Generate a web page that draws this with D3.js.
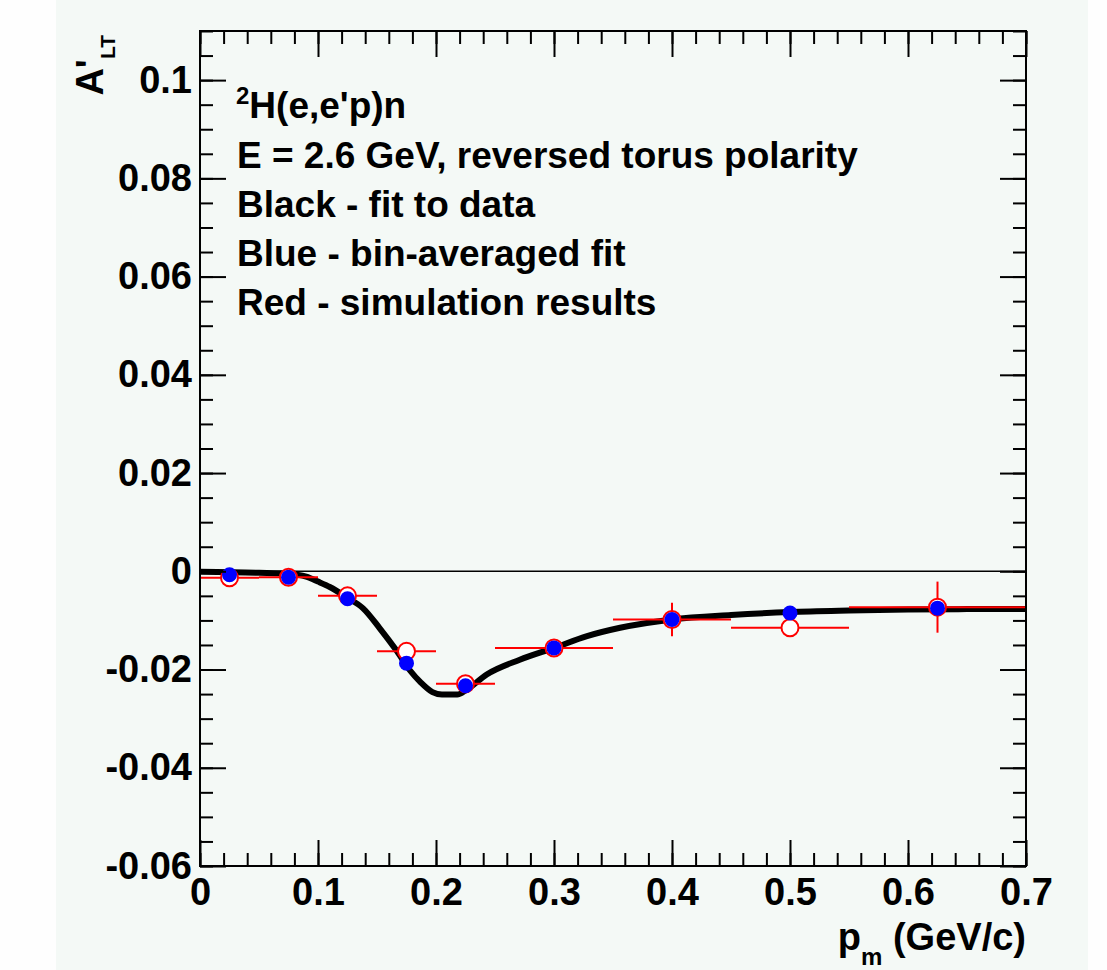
<!DOCTYPE html>
<html>
<head>
<meta charset="utf-8">
<script src="https://cdn.jsdelivr.net/npm/d3@7"></script>
<style>
  body { margin: 0; background: #fefefe; }
  svg { display: block; font-family: "Liberation Sans", Arial, Helvetica, sans-serif; font-weight: bold; }
</style>
</head>
<body>
<svg id="chart" width="1107" height="970"></svg>
<script>
// bins in missing momentum (GeV/c)
var binCenters = [0.025, 0.075, 0.125, 0.175, 0.225, 0.3, 0.4, 0.5, 0.625];
var binLow     = [0, 0.05, 0.1, 0.15, 0.2, 0.25, 0.35, 0.45, 0.55];
var binHigh    = [0.05, 0.1, 0.15, 0.2, 0.25, 0.35, 0.45, 0.55, 0.7];

// red - simulation results
var simValues = [-0.0013, -0.0012, -0.0050, -0.0163, -0.0229, -0.0156, -0.0098, -0.0115, -0.0073];
var simErrors = [0.0004, 0.0004, 0.0005, 0.0006, 0.0006, 0.0006, 0.0034, 0.0006, 0.0052];

// blue - bin-averaged fit
var binAvgFit = [-0.0007, -0.0012, -0.0056, -0.0187, -0.0233, -0.0156, -0.0098, -0.0085, -0.0075];

// black - fit to data
var fitX = [0, 0.05, 0.075, 0.09, 0.10, 0.11, 0.125, 0.138, 0.152, 0.167, 0.178, 0.187, 0.197, 0.205,
            0.218, 0.226, 0.243, 0.271, 0.3, 0.328, 0.356, 0.4, 0.45, 0.5, 0.55, 0.6, 0.65, 0.7];
var fitY = [-0.0001, -0.0003, -0.0005, -0.0011, -0.0021, -0.0032, -0.0054, -0.0075, -0.0115, -0.0163,
            -0.0202, -0.0226, -0.0246, -0.0251, -0.0251, -0.0241, -0.0210, -0.0180, -0.0156, -0.0132,
            -0.0115, -0.0098, -0.0089, -0.0083, -0.0080, -0.0078, -0.0077, -0.0077];

// axis ticks
var xMajor = [0, 0.1, 0.2, 0.3, 0.4, 0.5, 0.6, 0.7];
var yMajor = [-0.06, -0.04, -0.02, 0, 0.02, 0.04, 0.06, 0.08, 0.1];

var legendLines = ["E = 2.6 GeV, reversed torus polarity", "Black - fit to data",
                   "Blue - bin-averaged fit", "Red - simulation results"];

var svg = d3.select('#chart');

// frame in pixels
var frame = {l: 200, r: 1026, t: 31, b: 866};

var x = d3.scaleLinear().domain([0, 0.7]).range([frame.l, frame.r]);
var y = d3.scaleLinear().domain([-0.06, 0.11]).range([frame.b, frame.t]);

// panel background
svg.append('rect')
    .attr('x', 56).attr('y', 0)
    .attr('width', 1032).attr('height', 970)
    .style('fill', '#f4f9f6');

// zero line
svg.append('line')
    .attr('x1', x(0)).attr('x2', x(0.7))
    .attr('y1', y(0)).attr('y2', y(0))
    .style('stroke', '#000').style('stroke-width', 1.6);

// fit curve
var fitData = fitX.map(function(d, i) { return [d, fitY[i]]; });
svg.append('path')
    .datum(fitData)
    .attr('d', d3.line()
        .x(function(d) { return x(d[0]); })
        .y(function(d) { return y(d[1]); })
        .curve(d3.curveMonotoneX))
    .style('fill', 'none')
    .style('stroke', '#000')
    .style('stroke-width', 6)
    .style('stroke-linejoin', 'round');

// red simulation points with error bars
var sim = binCenters.map(function(d, i) {
    return {x: d, lo: binLow[i], hi: binHigh[i], v: simValues[i], e: simErrors[i]};
});
var simG = svg.append('g');
simG.selectAll('.hbar')
    .data(sim).enter().append('line')
    .attr('x1', function(d) { return x(d.lo); })
    .attr('x2', function(d) { return x(d.hi); })
    .attr('y1', function(d) { return y(d.v); })
    .attr('y2', function(d) { return y(d.v); })
    .style('stroke', '#ff0000').style('stroke-width', 2);
simG.selectAll('.vbar')
    .data(sim).enter().append('line')
    .attr('x1', function(d) { return x(d.x); })
    .attr('x2', function(d) { return x(d.x); })
    .attr('y1', function(d) { return y(d.v - d.e); })
    .attr('y2', function(d) { return y(d.v + d.e); })
    .style('stroke', '#ff0000').style('stroke-width', 2);
simG.selectAll('circle')
    .data(sim).enter().append('circle')
    .attr('cx', function(d) { return x(d.x); })
    .attr('cy', function(d) { return y(d.v); })
    .attr('r', 8.5)
    .style('fill', '#ffffff')
    .style('stroke', '#ff0000').style('stroke-width', 2);

// blue bin-averaged fit points
svg.append('g').selectAll('circle')
    .data(binCenters).enter().append('circle')
    .attr('cx', function(d) { return x(d); })
    .attr('cy', function(d, i) { return y(binAvgFit[i]); })
    .attr('r', 7.5)
    .style('fill', '#0000ff');

// axes: major and minor ticks on all four sides
var fmtY = function(d) { return d === 0 ? '0' : String(+d.toFixed(2)); };
var fmtX = function(d) { return d === 0 ? '0' : String(+d.toFixed(1)); };
var xMinor = d3.range(0, 0.7001, 0.02).map(function(d) { return +d.toFixed(2); });
var yMinor = d3.range(-0.06, 0.1101, 0.005).map(function(d) { return +d.toFixed(3); });

function addAxis(axis, tx, ty) {
    var g = svg.append('g')
        .attr('transform', 'translate(' + [tx, ty] + ')')
        .call(axis);
    g.select('.domain').remove();
    g.selectAll('line').style('stroke', '#000').style('stroke-width', 2);
    g.selectAll('text')
        .style('font-size', '38px')
        .style('font-weight', 'bold')
        .style('font-family', '"Liberation Sans", Arial, sans-serif')
        .style('fill', '#000');
    return g;
}

addAxis(d3.axisBottom(x).tickValues(xMinor).tickSize(-13).tickFormat(''), 0, frame.b);
addAxis(d3.axisBottom(x).tickValues(xMajor).tickSize(-26).tickPadding(12).tickFormat(fmtX), 0, frame.b);
addAxis(d3.axisTop(x).tickValues(xMinor).tickSize(-13).tickFormat(''), 0, frame.t);
addAxis(d3.axisTop(x).tickValues(xMajor).tickSize(-26).tickFormat(''), 0, frame.t);
addAxis(d3.axisLeft(y).tickValues(yMinor).tickSize(-13).tickFormat(''), frame.l, 0);
addAxis(d3.axisLeft(y).tickValues(yMajor).tickSize(-26).tickPadding(8).tickFormat(fmtY), frame.l, 0);
addAxis(d3.axisRight(y).tickValues(yMinor).tickSize(-13).tickFormat(''), frame.r, 0);
addAxis(d3.axisRight(y).tickValues(yMajor).tickSize(-26).tickFormat(''), frame.r, 0);

// frame
svg.append('rect')
    .attr('x', frame.l).attr('y', frame.t)
    .attr('width', frame.r - frame.l).attr('height', frame.b - frame.t)
    .style('fill', 'none')
    .style('stroke', '#000').style('stroke-width', 2);

// legend text
var leg = svg.append('g').style('font-size', '37px').style('fill', '#000');
var first = leg.append('text').attr('x', 236).attr('y', 118);
first.append('tspan').attr('dy', -14).style('font-size', '24px').text('2');
first.append('tspan').attr('dy', 14).text("H(e,e'p)n");
leg.selectAll('.line')
    .data(legendLines).enter().append('text')
    .attr('x', 237)
    .attr('y', function(d, i) { return 168 + i * 49; })
    .text(function(d) { return d; });

// y-axis title
var yt = svg.append('text')
    .attr('transform', 'translate(103,35) rotate(-90)')
    .attr('text-anchor', 'end')
    .style('font-size', '38px');
yt.append('tspan').text("A'");
yt.append('tspan').attr('dy', 12).style('font-size', '21px').text('LT');

// x-axis title
var xt = svg.append('text')
    .attr('x', frame.r).attr('y', 950)
    .attr('text-anchor', 'end')
    .style('font-size', '38px');
xt.append('tspan').text('p');
xt.append('tspan').attr('dy', 15).style('font-size', '24px').text('m');
xt.append('tspan').attr('dy', -15).text(' (GeV/c)');
</script>
</body>
</html>
